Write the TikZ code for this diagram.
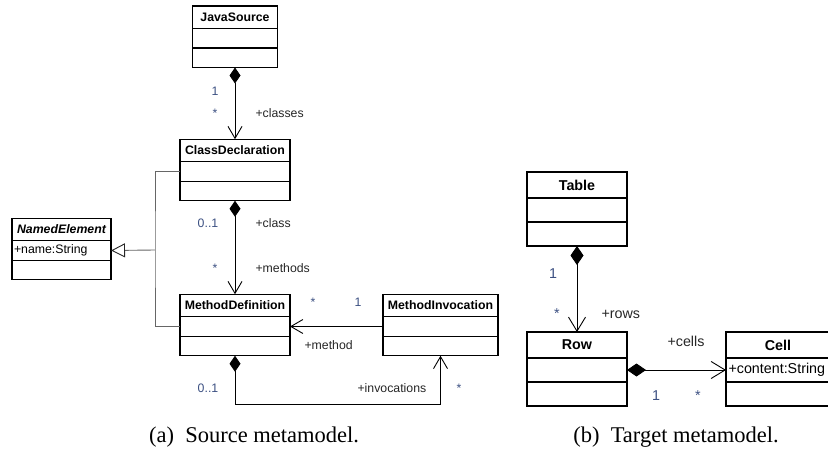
\documentclass[tikz,border=0pt]{standalone}
\usepackage{fontspec}
\setmainfont{Liberation Serif}
\setsansfont{Liberation Sans}
\usepackage{xcolor}
\usetikzlibrary{arrows.meta,positioning}
\definecolor{multblue}{RGB}{60,80,130}

\begin{document}
\begin{tikzpicture}[x=1pt, y=-1pt,
    cls/.style={draw, line width=1.4pt, outer sep=0pt, inner sep=0pt},
    stitle/.style={cls, minimum height=22.5pt, font=\sffamily\bfseries\fontsize{12.3}{14}\selectfont},
    sbox/.style={cls, minimum height=19.5pt, font=\sffamily\fontsize{12.3}{14}\selectfont},
    ttitle/.style={cls, minimum height=26pt, font=\sffamily\bfseries\fontsize{14.3}{16}\selectfont},
    tbox/.style={cls, minimum height=24pt, font=\sffamily\fontsize{14.3}{16}\selectfont},
    compose/.style={{Diamond[length=16pt, width=11pt]}-{Straight Barb[length=12pt, width=14pt]}, line width=0.9pt},
    rcompose/.style={{Diamond[length=19pt, width=13pt]}-{Straight Barb[length=14pt, width=17pt]}, line width=0.9pt},
    assoc/.style={-{Straight Barb[length=12pt, width=14pt]}, line width=0.9pt},
    inherit/.style={line width=0.9pt, draw=black!60},
    mult/.style={anchor=base, text=multblue, font=\sffamily\fontsize{12.3}{14}\selectfont},
    role/.style={anchor=base west, text=black!85, font=\sffamily\fontsize{12.3}{14}\selectfont},
    tmult/.style={mult, font=\sffamily\fontsize{14.3}{16}\selectfont},
    trole/.style={role, font=\sffamily\fontsize{14.3}{16}\selectfont},
    capt/.style={anchor=base, font=\fontsize{22.5}{26}\selectfont}
]
\useasboundingbox (0,0) rectangle (828,449);

% Source metamodel: classes
\node[stitle, minimum width=85pt] (js) at (235,17.25) {JavaSource};
\node[sbox, minimum width=85pt, below=0pt of js] (js1) {};
\node[sbox, minimum width=85pt, below=0pt of js1] (js2) {};

\node[stitle, minimum width=110pt] (cd) at (235,150.5) {ClassDeclaration};
\node[sbox, minimum width=110pt, below=0pt of cd] (cd1) {};
\node[sbox, minimum width=110pt, below=0pt of cd1] (cd2) {};

\node[stitle, minimum width=99pt, font=\sffamily\bfseries\itshape\fontsize{12.3}{14}\selectfont] (ne) at (61.5,229.5) {NamedElement};
\node[sbox, text width=95pt, inner xsep=2pt, align=left, below=0pt of ne] (ne1) {+name:String};
\node[sbox, minimum width=99pt, below=0pt of ne1] (ne2) {};

\node[stitle, minimum width=110pt] (md) at (235,305.5) {MethodDefinition};
\node[sbox, minimum width=110pt, below=0pt of md] (md1) {};
\node[sbox, minimum width=110pt, below=0pt of md1] (md2) {};

\node[stitle, minimum width=115pt] (mi) at (440.5,305.5) {MethodInvocation};
\node[sbox, minimum width=115pt, below=0pt of mi] (mi1) {};
\node[sbox, minimum width=115pt, below=0pt of mi1] (mi2) {};

% Source metamodel: connectors
\draw[compose] (js2) -- (cd);
\draw[compose] (cd2) -- (md);
\draw[assoc] (mi1.west) -- (md1.east);
\draw[compose] (md2.south) -- ++(0,49) -| (mi2.south);

\coordinate (gen) at (155,250);
\draw[inherit] (cd1.west) -| (gen) |- (md1.west);
\draw[inherit, -{Triangle[open, length=14pt, width=14pt, fill=white, color=black!85]}] (gen) -- (ne1.east);

% Source metamodel: labels
\node[mult] (m1) at (215,96) {1};
\node[mult] (m2) at (215,118) {*};
\node[role] (r1) at (252,118) {+classes};
\node[mult] (m3) at (208,228) {0..1};
\node[role] (r2) at (252,228) {+class};
\node[mult] (m4) at (215,273) {*};
\node[role] (r3) at (252,273) {+methods};
\node[mult] (m5) at (313,307) {*};
\node[mult] (m6) at (358,307) {1};
\node[role] (r4) at (301,349) {+method};
\node[mult] (m7) at (208,392) {0..1};
\node[role] (r5) at (354,392) {+invocations};
\node[mult] (m8) at (459,392) {*};

% Target metamodel: classes
\node[ttitle, minimum width=100pt] (tb) at (577,185) {Table};
\node[tbox, minimum width=100pt, below=0pt of tb] (tb1) {};
\node[tbox, minimum width=100pt, below=0pt of tb1] (tb2) {};

\node[ttitle, minimum width=100pt] (rw) at (577,345) {Row};
\node[tbox, minimum width=100pt, below=0pt of rw] (rw1) {};
\node[tbox, minimum width=100pt, below=0pt of rw1] (rw2) {};

\node[ttitle, minimum width=104pt] (cl) at (778,345) {Cell};
\node[tbox, text width=99pt, inner xsep=2.5pt, align=left, below=0pt of cl] (cl1) {+content:String};
\node[tbox, minimum width=104pt, below=0pt of cl1] (cl2) {};

% Target metamodel: connectors
\draw[rcompose] (tb2) -- (rw);
\draw[rcompose] (rw1.east) -- (cl1.west);

% Target metamodel: labels
\node[tmult] (t1) at (553,279) {1};
\node[tmult] (t2) at (557,319) {*};
\node[trole] (t3) at (598,319) {+rows};
\node[trole] (t4) at (664,347) {+cells};
\node[tmult] (t5) at (656,400) {1};
\node[tmult] (t6) at (698,400) {*};

% Captions
\node[capt] (capa) at (254,442) {(a)\hspace{0.25em} Source metamodel.};
\node[capt] (capb) at (676,442) {(b)\hspace{0.25em} Target metamodel.};
\end{tikzpicture}
\end{document}
